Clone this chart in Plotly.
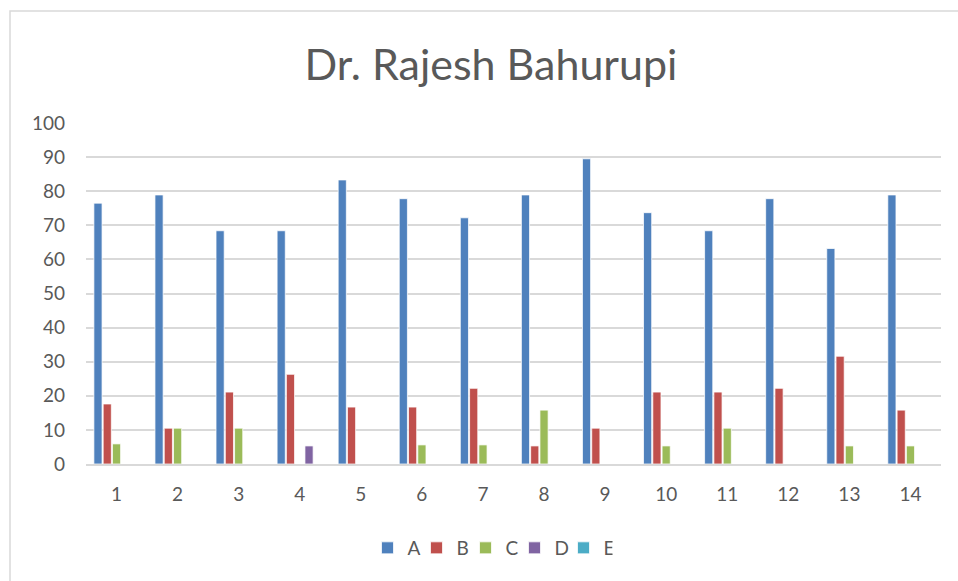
import plotly.graph_objects as go

categories = [str(i) for i in range(1, 15)]
series_names = ["A", "B", "C", "D", "E"]
A = [76.5, 78.9, 68.4, 68.4, 83.3, 77.8, 72.2, 78.9, 89.5, 73.7, 68.4, 77.8, 63.2, 78.9]
B = [17.6, 10.5, 21.1, 26.3, 16.7, 16.7, 22.2, 5.3, 10.5, 21.1, 21.1, 22.2, 31.6, 15.8]
C = [5.9, 10.5, 10.5, 0, 0, 5.6, 5.6, 15.8, 0, 5.3, 10.5, 0, 5.3, 5.3]
D = [0, 0, 0, 5.3, 0, 0, 0, 0, 0, 0, 0, 0, 0, 0]
E = [0] * 14
values = [A, B, C, D, E]
colors = ["#4F81BD", "#C0504D", "#9BBB59", "#8064A2", "#4BACC6"]

fig = go.Figure()
for name, vals, col in zip(series_names, values, colors):
    fig.add_trace(go.Bar(x=categories, y=vals, name=name,
                         marker=dict(color=col, line=dict(color="white", width=0.75))))

W, H = 958, 581
l, r, t, b = 86, 17, 123, 117
pw, ph = W - l - r, H - t - b

fig.update_layout(
    width=W, height=H,
    margin=dict(l=l, r=r, t=t, b=b),
    paper_bgcolor="white", plot_bgcolor="white",
    font=dict(family="Lato, Carlito, sans-serif", color="#595959", size=19),
    title=dict(text="Dr. Rajesh Bahurupi", x=491 / W, xanchor="center", y=1 - 65 / H, yanchor="middle",
               font=dict(size=43, color="#595959")),
    barmode="group", bargap=0.24, bargroupgap=0.12,
    showlegend=True,
    legend=dict(orientation="h", x=(490 - l) / pw, xanchor="center", y=(464 - 548) / ph, yanchor="middle",
                font=dict(size=19, color="#595959"), itemwidth=30, traceorder="normal",
                entrywidth=4, entrywidthmode="pixels"),
    xaxis=dict(showgrid=False, showline=True, linecolor="#D9D9D9", linewidth=1.5, ticks="",
               tickfont=dict(size=19, color="#595959"), ticklabelstandoff=12),
    yaxis=dict(range=[0, 100], dtick=10, showgrid=True, gridcolor="#D9D9D9", gridwidth=1.5,
               zeroline=False, showline=False, ticks="",
               tickfont=dict(size=19, color="#595959"), ticklabelstandoff=20),
    shapes=[dict(type="rect", xref="paper", yref="paper",
                 x0=(10 - l) / pw, x1=(962 - l) / pw, y0=(464 - 585) / ph, y1=1 + (t - 11) / ph,
                 line=dict(color="#D9D9D9", width=1.5), fillcolor="rgba(0,0,0,0)", layer="below")],
)

fig.write_html("out.html", config={"displayModeBar": False},
               post_script="document.body.style.margin='0';document.body.style.overflow='hidden';")
